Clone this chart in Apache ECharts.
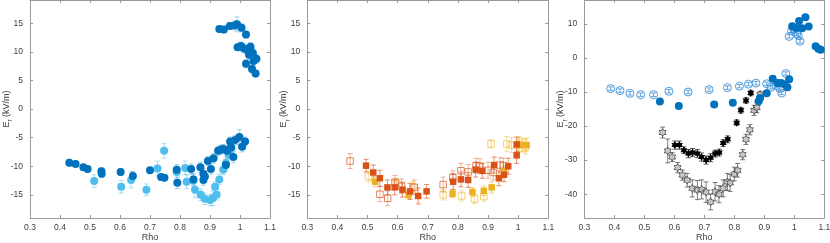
<!DOCTYPE html>
<html><head><meta charset="utf-8">
<script src="https://cdn.jsdelivr.net/npm/echarts@6/dist/echarts.min.js"></script>
<style>html,body{margin:0;padding:0;background:#fff}#c{width:830px;height:243px}</style>
</head><body><div id="c"></div>
<script>
// ---------- tick labels ----------
const xTicks = [0.3,0.4,0.5,0.6,0.7,0.8,0.9,1.0,1.1];
const yTicksA = [-15,-10,-5,0,5,10,15];
const yTicksC = [-40,-30,-20,-10,0,10];

// ---------- panel 1 ----------
const p1DarkX = [0.431,0.452,0.478,0.492,0.538,0.539,0.602,0.643,0.700,0.737,0.748,0.789,0.791,0.837,0.845,0.868,0.878,0.883,0.878,0.893,0.903,0.912,0.927,0.937,0.945,0.953,0.958,0.967,0.970,0.978,0.984,0.998,1.007,1.017,
  0.931,0.946,0.966,0.982,0.990,1.005,1.020,0.992,1.003,1.012,1.022,1.035,1.030,1.043,1.045,1.055,1.020,1.040,1.052];
const p1DarkY = [-9.4,-9.6,-10.2,-10.5,-10.9,-11.3,-11.0,-11.7,-10.7,-11.9,-12.0,-10.6,-12.9,-10.5,-12.3,-10.2,-11.3,-11.8,-12.4,-9.1,-10.5,-8.6,-7.3,-7.1,-7.0,-9.8,-7.3,-5.7,-6.7,-8.4,-5.4,-4.9,-6.6,-5.7,
  14.0,13.9,14.5,14.6,14.8,14.2,13.0,10.8,11.0,10.6,10.4,10.9,9.5,9.8,8.4,8.8,7.9,7.0,6.2];
const p1DarkE = [0.6,0.5,0.5,0.5,0.6,0.6,0.6,0.8,0.5,0.5,0.5,0.9,1.0,0.9,1.0,0.9,0.9,0.9,0.9,0.8,0.9,0.8,0.8,0.8,0.8,1.0,0.8,0.8,0.8,1.0,0.8,1.3,0.9,0.8,
  0.5,0.6,0.6,0.8,1.3,0.7,0.6,0.6,0.7,0.8,0.7,0.7,0.8,0.8,0.8,0.8,0.7,0.7,0.6];
const p1LightX = [0.514,0.604,0.637,0.688,0.725,0.747,0.789,0.817,0.822,0.844,0.850,0.869,0.883,0.900,0.909,0.922,0.917,0.931,0.944,0.953,0.962,0.964,0.972];
const p1LightY = [-12.6,-13.6,-12.4,-14.1,-10.4,-7.3,-11.0,-10.3,-12.7,-12.5,-14.1,-15.0,-15.7,-15.9,-15.6,-15.0,-13.6,-12.3,-10.6,-9.5,-8.0,-7.4,-6.8];
const p1LightE = [1.1,1.1,1.4,1.0,1.3,1.3,1.0,1.2,1.2,1.0,1.4,1.0,1.0,1.0,1.3,0.9,0.9,0.9,0.9,0.9,0.9,0.9,0.8];

// ---------- panel 2 ----------
const p2RedFX = [0.495,0.519,0.541,0.566,0.590,0.616,0.641,0.668,0.696,0.784,0.810,0.834,0.859,0.881,0.920,0.936,0.953,0.967,0.995,0.995];
const p2RedFY = [-9.9,-11.1,-12.1,-13.7,-13.7,-14.1,-14.4,-15.2,-14.4,-12.7,-12.3,-12.4,-10.6,-10.8,-9.8,-12.1,-11.5,-10.0,-8.1,-6.2];
const p2RedFE = [1.1,1.3,1.4,1.3,1.3,1.3,1.4,1.4,1.2,1.4,1.3,1.3,1.3,1.3,1.4,1.3,1.2,1.4,1.4,1.3];
const p2RedOX = [0.442,0.541,0.567,0.591,0.613,0.655,0.751,0.783,0.810,0.834,0.860,0.873,0.900,0.917,0.940,0.951];
const p2RedOY = [-9.1,-14.9,-15.6,-12.8,-13.5,-13.7,-13.2,-12.0,-10.8,-11.0,-9.9,-10.0,-10.7,-11.1,-9.8,-9.9];
const p2RedOE = [1.3,1.3,1.3,1.2,1.3,1.3,1.3,1.2,1.3,1.3,1.3,1.3,1.4,1.3,1.3,1.3];
const p2YelFX = [0.525,0.636,0.782,0.848,0.886,0.912,0.953,1.000,1.014,1.028];
const p2YelFY = [-12.7,-15.0,-14.8,-14.5,-14.3,-13.7,-10.9,-6.3,-6.3,-6.3];
const p2YelFE = [0.9,0.7,0.7,0.8,0.8,1.0,1.0,1.2,1.2,1.2];
const p2YelOX = [0.503,0.596,0.650,0.751,0.812,0.855,0.886,0.910,0.962,0.978,1.004,1.023];
const p2YelOY = [-11.8,-13.0,-13.6,-15.0,-15.2,-15.7,-15.3,-6.1,-6.1,-6.3,-6.1,-6.6];
const p2YelOE = [0.9,0.9,0.9,0.9,0.9,0.8,0.8,0.7,1.3,1.3,1.3,1.3];

// ---------- panel 3 ----------
const p3OpenX = [0.388,0.419,0.452,0.488,0.531,0.582,0.646,0.716,0.777,0.817,0.847,0.872,0.908,0.922,0.939,0.952,0.958,0.972,0.983,0.991,0.999,1.008,1.013,1.019];
const p3OpenY = [-9.0,-9.6,-10.4,-10.8,-10.8,-9.8,-10.0,-9.3,-8.75,-8.3,-7.7,-7.4,-7.6,-8.6,-8.1,-9.0,-10.3,-4.6,6.3,8.0,8.5,7.1,6.6,4.9];
const p3OpenE = [0.5,0.5,0.5,0.5,0.5,0.5,0.5,0.5,0.5,0.5,0.5,0.5,0.5,0.5,0.5,0.5,0.5,0.5,0.5,0.5,0.5,0.5,0.5,0.5];
const p3FillX = [0.552,0.615,0.733,0.795,0.881,0.886,0.908,0.928,0.944,0.956,0.967,0.977,0.983,0.993,1.006,1.016,1.026,1.037,1.048,1.071,1.080,1.088];
const p3FillY = [-12.8,-14.1,-13.7,-13.2,-12.75,-11.8,-10.4,-6.1,-7.4,-7.4,-7.7,-8.6,-6.3,9.3,8.8,10.8,8.7,11.9,9.2,3.45,2.7,2.4];
const p3StarX = [0.602,0.617,0.632,0.647,0.661,0.677,0.691,0.706,0.721,0.736,0.750,0.763,0.778,0.808,0.822,0.839,0.855];
const p3StarY = [-25.6,-25.6,-27.1,-28.1,-27.8,-28.1,-29.1,-30.0,-29.3,-28.1,-27.8,-25.0,-23.9,-19.0,-15.4,-12.5,-10.3];
const p3StarE = [1.2,1.2,1.0,1.2,1.2,1.2,1.2,1.2,1.2,1.0,1.0,1.0,1.0,0.8,0.8,0.8,0.8];
const p3HollowX = [0.561,0.578,0.593,0.611,0.627,0.643,0.660,0.677,0.691,0.706,0.721,0.736,0.749,0.763,0.777,0.786,0.800,0.811,0.828,0.839,0.852,0.866,0.875,0.886];
const p3HollowY = [-21.9,-27.3,-29.1,-32.2,-34.4,-35.9,-38.3,-38.8,-38.6,-39.4,-42.3,-39.3,-40.0,-38.3,-36.4,-36.7,-34.1,-33.0,-28.4,-23.9,-21.1,-15.4,-14.6,-10.8];
const p3HollowE = [1.6,3.5,1.3,1.5,1.5,2.0,2.5,2.8,2.8,3.0,2.3,2.7,2.5,2.5,2.5,2.5,2.0,2.0,1.5,1.5,1.5,1.5,1.5,1.0];

// ---------- helpers ----------
function hexagram(){
  const pts=[];
  for(let k=0;k<12;k++){
    const a=Math.PI/2+k*Math.PI/6, r=(k%2===0)?1:0.5774;
    pts.push((50+50*r*Math.cos(a)).toFixed(2)+','+(50-50*r*Math.sin(a)).toFixed(2));
  }
  return 'path://M'+pts.join('L')+'Z';
}
const HEX = hexagram();
const FONT = 'Liberation Sans';
const TXT = '#404040';
const LINE = '#9a9a9a';

function pairs(xs,ys){ return xs.map((x,i)=>[x,ys[i]]); }

function errSeries(ai, xs, ys, es, color, opacity, cap){
  return {
    type:'custom', xAxisIndex:ai*2, yAxisIndex:ai*2, silent:true, z:2,
    data: xs.map((x,i)=>[x, ys[i]-es[i], ys[i]+es[i]]),
    encode:{x:0, y:[1,2]},
    renderItem(params, api){
      const lo = api.coord([api.value(0), api.value(1)]);
      const hi = api.coord([api.value(0), api.value(2)]);
      const h = cap/2;
      const st = {stroke:color, lineWidth:0.8, opacity:opacity};
      return {type:'group', children:[
        {type:'line', shape:{x1:lo[0],y1:lo[1],x2:hi[0],y2:hi[1]}, style:st},
        {type:'line', shape:{x1:lo[0]-h,y1:lo[1],x2:lo[0]+h,y2:lo[1]}, style:st},
        {type:'line', shape:{x1:hi[0]-h,y1:hi[1],x2:hi[0]+h,y2:hi[1]}, style:st}
      ]};
    }
  };
}
function scat(ai, xs, ys, symbol, size, fill, stroke, bw, opacity, z){
  return {
    type:'scatter', xAxisIndex:ai*2, yAxisIndex:ai*2, silent:true, z:z||3,
    data: pairs(xs,ys), symbol:symbol, symbolSize:size, symbolKeepAspect:true,
    itemStyle:{color:fill, borderColor:stroke, borderWidth:bw, opacity:opacity==null?1:opacity},
    emphasis:{disabled:true}
  };
}

const panels = [
  {left:30, width:240, min:-19.05, max:19.05, ticks:yTicksA},
  {left:307.3, width:241, min:-19.05, max:19.05, ticks:yTicksA},
  {left:584.3, width:240, min:-47, max:17, ticks:yTicksC}
];
const grid=[], xAxis=[], yAxis=[];
panels.forEach((p,i)=>{
  grid.push({left:p.left, top:0, width:p.width, height:218, containLabel:false, outerBoundsMode:'none'});
  const tick = {show:true, inside:true, length:3, lineStyle:{color:LINE, width:1}};
  xAxis.push({
    type:'value', gridIndex:i, min:0.3, max:1.1, position:'bottom',
    axisLine:{show:true, onZero:false, lineStyle:{color:LINE, width:1}},
    axisTick:Object.assign({customValues:xTicks}, tick),
    axisLabel:{customValues:xTicks, color:TXT, fontFamily:FONT, fontSize:8.5, margin:5,
      formatter:v=>String(+(+v).toFixed(1))},
    splitLine:{show:false},
    name:'Rho', nameLocation:'middle', nameGap:15, nameMoveOverlap:false,
    nameTextStyle:{color:TXT, fontFamily:FONT, fontSize:9}
  });
  xAxis.push({
    type:'value', gridIndex:i, min:0.3, max:1.1, position:'top',
    axisLine:{show:true, onZero:false, lineStyle:{color:LINE, width:1}},
    axisTick:Object.assign({customValues:xTicks}, tick),
    axisLabel:{show:false}, splitLine:{show:false}
  });
  yAxis.push({
    type:'value', gridIndex:i, min:p.min, max:p.max, position:'left',
    axisLine:{show:true, onZero:false, lineStyle:{color:LINE, width:1}},
    axisTick:Object.assign({customValues:p.ticks}, tick),
    axisLabel:{customValues:p.ticks, color:TXT, fontFamily:FONT, fontSize:8.5, margin:7},
    splitLine:{show:false},
    name:'{a|E}{s|r}{a| (kV/m)}', nameLocation:'middle', nameGap:19, nameRotate:90, nameMoveOverlap:false,
    nameTextStyle:{color:TXT, fontFamily:FONT, fontSize:9,
      rich:{a:{color:TXT, fontFamily:FONT, fontSize:9, lineHeight:9, verticalAlign:'middle'},
            s:{color:TXT, fontFamily:FONT, fontSize:6.5, lineHeight:6, verticalAlign:'top', padding:[5,0,0,0]}}}
  });
  yAxis.push({
    type:'value', gridIndex:i, min:p.min, max:p.max, position:'right',
    axisLine:{show:true, onZero:false, lineStyle:{color:LINE, width:1}},
    axisTick:Object.assign({customValues:p.ticks}, tick),
    axisLabel:{show:false}, splitLine:{show:false}
  });
});

const BLUE='#0072BD', LBLUE='#4DBEEE', RED='#D95319', YEL='#EDB120';
const series = [
  // panel 1
  errSeries(0, p1LightX, p1LightY, p1LightE, LBLUE, 0.6, 5),
  scat(0, p1LightX, p1LightY, 'circle', 8, LBLUE, LBLUE, 0, 1, 3),
  errSeries(0, p1DarkX, p1DarkY, p1DarkE, '#3a9ad9', 0.55, 5),
  scat(0, p1DarkX, p1DarkY, 'circle', 8, BLUE, BLUE, 0, 1, 4),
  // panel 2
  errSeries(1, p2YelOX, p2YelOY, p2YelOE, YEL, 0.55, 5),
  scat(1, p2YelOX, p2YelOY, 'rect', 6.5, 'rgba(0,0,0,0)', YEL, 1, 0.6, 3),
  errSeries(1, p2RedOX, p2RedOY, p2RedOE, RED, 0.55, 5),
  scat(1, p2RedOX, p2RedOY, 'rect', 6.5, 'rgba(0,0,0,0)', RED, 1, 0.7, 3),
  errSeries(1, p2YelFX, p2YelFY, p2YelFE, YEL, 0.7, 5),
  scat(1, p2YelFX, p2YelFY, 'rect', 6.5, YEL, YEL, 0, 1, 4),
  errSeries(1, p2RedFX, p2RedFY, p2RedFE, RED, 0.8, 5),
  scat(1, p2RedFX, p2RedFY, 'rect', 6.5, RED, RED, 0, 1, 4),
  // panel 3
  errSeries(2, p3HollowX, p3HollowY, p3HollowE, '#333333', 0.8, 5),
  scat(2, p3HollowX, p3HollowY, HEX, 8, 'rgba(200,200,200,0.7)', '#444444', 0.8, 1, 3),
  errSeries(2, p3StarX, p3StarY, p3StarE, '#222222', 0.9, 5),
  scat(2, p3StarX, p3StarY, HEX, 8, '#000000', '#000000', 0, 1, 4),
  errSeries(2, p3OpenX, p3OpenY, p3OpenE, '#3a8fd6', 1, 5),
  scat(2, p3OpenX, p3OpenY, 'circle', 8, 'rgba(0,0,0,0)', '#3a8fd6', 0.9, 1, 5),
  scat(2, p3FillX, p3FillY, 'circle', 8, BLUE, BLUE, 0, 1, 6)
];

const chart = echarts.init(document.getElementById('c'), null, {renderer:'canvas'});
chart.setOption({animation:false, backgroundColor:'#ffffff', grid, xAxis, yAxis, series});
</script>
</body></html>
